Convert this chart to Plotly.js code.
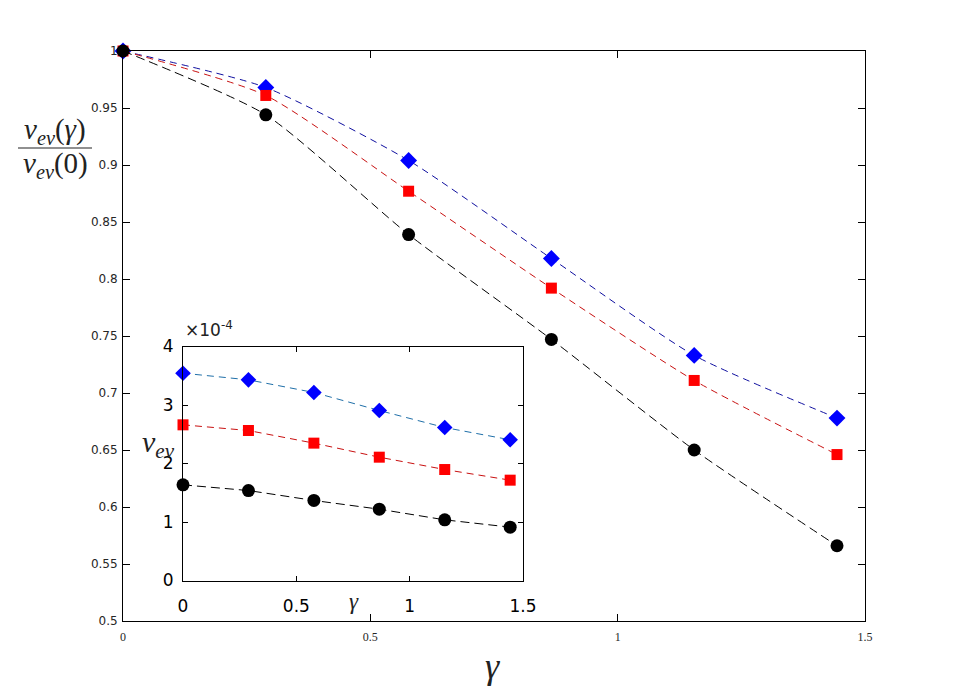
<!DOCTYPE html>
<html>
<head>
<meta charset="utf-8">
<script src="https://cdn.plot.ly/plotly-3.0.1.min.js"></script>
<style>html,body{margin:0;padding:0;background:#fff;}#chart{width:953px;height:698px;}</style>
</head>
<body>
<div id="chart"></div>
<script>
// gamma values
const gamma = [0, 0.2887, 0.5774, 0.8660, 1.1547, 1.4434];
// normalised v_ev(gamma)/v_ev(0)
const ratioBlue  = [1, 0.968, 0.904, 0.818, 0.733, 0.678];
const ratioRed   = [1, 0.961, 0.877, 0.792, 0.711, 0.646];
const ratioBlack = [1, 0.944, 0.839, 0.747, 0.650, 0.566];
// inset: v_ev in units of 1e-4
const vevBlue  = [3.544, 3.43, 3.214, 2.906, 2.615, 2.405];
const vevRed   = [2.661, 2.564, 2.348, 2.108, 1.897, 1.715];
const vevBlack = [1.635, 1.538, 1.368, 1.219, 1.037, 0.912];
const xTicks = [0, 0.5, 1, 1.5];
const xTickText = ['0', '0.5', '1', '1.5'];
const mainYTicks = [0.5, 0.55, 0.6, 0.65, 0.7, 0.75, 0.8, 0.85, 0.9, 0.95, 1];
const mainYText = ['0.5','0.55','0.6','0.65','0.7','0.75','0.8','0.85','0.9','0.95','1'];
const insetYTicks = [0, 1, 2, 3, 4];

const W = 953, H = 698;
const px = x => x / W;
const py = y => 1 - y / H;

function tr(x, y, xa, ya, lineColor, mColor, symbol, size, dash, shape) {
  return {
    x: x, y: y, xaxis: xa, yaxis: ya, type: 'scatter', mode: 'lines+markers',
    line: {color: lineColor, width: 1, dash: dash, shape: shape, smoothing: 0.6},
    marker: {color: mColor, symbol: symbol, size: size, line: {width: 0}},
    showlegend: false, hoverinfo: 'skip', cliponaxis: false
  };
}

const data = [
  tr(gamma, ratioBlue, 'x', 'y', '#1010a0', '#0000ff', 'diamond', 13, '7px,5px', 'spline'),
  tr(gamma, ratioRed, 'x', 'y', '#c81010', '#ff0000', 'square', 11, '7px,5px', 'spline'),
  tr(gamma, ratioBlack, 'x', 'y', '#000000', '#000000', 'circle', 13, '9px,5px', 'spline'),
  tr(gamma, vevBlue, 'x2', 'y2', '#1f6fa8', '#0000ff', 'diamond', 12, '7px,5px', 'linear'),
  tr(gamma, vevRed, 'x2', 'y2', '#c81010', '#ff0000', 'square', 11, '7px,5px', 'linear'),
  tr(gamma, vevBlack, 'x2', 'y2', '#000000', '#000000', 'circle', 13, '9px,5px', 'linear')
];

const serif = 'Liberation Serif, DejaVu Serif, serif';
const sans = 'DejaVu Sans, Liberation Sans, sans-serif';

const layout = {
  width: W, height: H,
  margin: {l: 0, r: 0, t: 0, b: 0},
  paper_bgcolor: '#ffffff', plot_bgcolor: 'rgba(0,0,0,0)',
  showlegend: false,
  xaxis: {
    domain: [px(123), px(865)], range: [0, 1.5], anchor: 'y',
    tickvals: xTicks, ticktext: xTickText, ticks: 'inside', ticklen: 7, tickcolor: '#000',
    showline: true, linecolor: '#000', linewidth: 1, mirror: 'ticks',
    showgrid: false, zeroline: false, ticklabelstandoff: 5,
    tickfont: {family: serif, size: 12, color: '#262626'}
  },
  yaxis: {
    domain: [py(621), py(51)], range: [0.5, 1], anchor: 'x',
    tickvals: mainYTicks, ticktext: mainYText, ticks: 'inside', ticklen: 7, tickcolor: '#000',
    showline: true, linecolor: '#000', linewidth: 1, mirror: 'ticks',
    showgrid: false, zeroline: false, ticklabelstandoff: 2,
    tickfont: {family: sans, size: 12, color: '#262626'}
  },
  xaxis2: {
    domain: [px(183), px(523)], range: [0, 1.5], anchor: 'y2',
    tickvals: xTicks, ticktext: xTickText, ticks: 'inside', ticklen: 5, tickcolor: '#000',
    showline: true, linecolor: '#000', linewidth: 1, mirror: 'ticks',
    showgrid: false, zeroline: false, ticklabelstandoff: 10,
    tickfont: {family: sans, size: 17, color: '#000'}
  },
  yaxis2: {
    domain: [py(580.5), py(346.5)], range: [0, 4], anchor: 'x2',
    tickvals: insetYTicks, ticks: 'inside', ticklen: 5, tickcolor: '#000',
    showline: true, linecolor: '#000', linewidth: 1, mirror: 'ticks',
    showgrid: false, zeroline: false, ticklabelstandoff: 5,
    tickfont: {family: sans, size: 17, color: '#000'}
  },
  shapes: [
    {type: 'rect', xref: 'paper', yref: 'paper', x0: px(183), x1: px(523), y0: py(580.5), y1: py(346.5),
     fillcolor: '#ffffff', line: {width: 0}, layer: 'below'},
    {type: 'line', xref: 'paper', yref: 'paper', x0: px(18), x1: px(92), y0: py(148), y1: py(148),
     line: {color: '#222', width: 1.2}}
  ],
  annotations: [
    {xref: 'paper', yref: 'paper', x: px(55), y: py(131), text: '<i>v</i><sub><i>ev</i></sub>(<i>γ</i>)',
     showarrow: false, font: {family: serif, size: 29, color: '#222'}, xanchor: 'center', yanchor: 'middle'},
    {xref: 'paper', yref: 'paper', x: px(55), y: py(165), text: '<i>v</i><sub><i>ev</i></sub>(0)',
     showarrow: false, font: {family: serif, size: 29, color: '#222'}, xanchor: 'center', yanchor: 'middle'},
    {xref: 'paper', yref: 'paper', x: px(492), y: py(666), text: '<i>γ</i>',
     showarrow: false, font: {family: serif, size: 36, color: '#222'}, xanchor: 'center', yanchor: 'middle'},
    {xref: 'paper', yref: 'paper', x: px(354), y: py(601), text: '<i>γ</i>',
     showarrow: false, font: {family: serif, size: 23, color: '#222'}, xanchor: 'center', yanchor: 'middle'},
    {xref: 'paper', yref: 'paper', x: px(158), y: py(444), text: '<i>v</i><sub><i>ev</i></sub>',
     showarrow: false, font: {family: serif, size: 30, color: '#222'}, xanchor: 'center', yanchor: 'middle'},
    {xref: 'paper', yref: 'paper', x: px(183), y: py(329), text: '×10<sup>-4</sup>',
     showarrow: false, font: {family: sans, size: 17, color: '#222'}, xanchor: 'left', yanchor: 'middle'}
  ]
};

Plotly.newPlot('chart', data, layout, {staticPlot: true, displayModeBar: false});
</script>
</body>
</html>
